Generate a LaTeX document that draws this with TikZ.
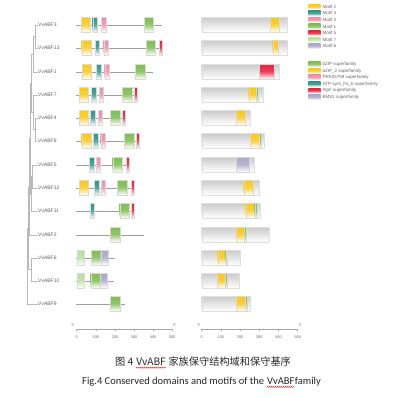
\documentclass[tikz,border=0pt]{standalone}
\usepackage{fontspec}
\setmainfont{Liberation Sans}
\newfontfamily\cjkfont{Noto Sans CJK SC}
\newfontfamily\calfont{Carlito}
\usetikzlibrary{decorations.pathmorphing}
\definecolor{cY}{HTML}{FCC814}
\definecolor{cT}{HTML}{2A978C}
\definecolor{cP}{HTML}{F08CA6}
\definecolor{cG}{HTML}{7DBE4E}
\definecolor{cR}{HTML}{E8203A}
\definecolor{cLG}{HTML}{B9E09A}
\definecolor{cL}{HTML}{ABA8C8}
\newcommand\mot[4]{\shade[top color=#4,bottom color=white,middle color=#4!85,draw=gray!30,line width=0.3pt] (#1,#3-8) rectangle (#2,#3+7);}
\newcommand\gbox[2]{\shade[top color=gray!42,bottom color=white,draw=gray!25,line width=0.3pt] (201.7,#2-8) rectangle (#1,#2+7);}
\newcommand\swatch[2]{\shade[top color=#2,bottom color=white,middle color=#2!85] (308.3,#1-2.6) rectangle (320.5,#1+2.4);}
\begin{document}
\begin{tikzpicture}[x=1pt,y=-1pt,
  lbl/.style={font=\fontsize{5}{5}\selectfont,text=gray!75!black,inner sep=0.5pt,anchor=west},
  leg/.style={font=\fontsize{4.5}{4.5}\selectfont,text=gray!80!black,inner sep=0.5pt,anchor=west},
  tk/.style={font=\fontsize{3.8}{3.8}\selectfont,text=gray!80!black,inner sep=0.5pt},
  tree/.style={draw=gray!55,line width=0.5pt},
  mline/.style={draw=gray!75,line width=0.6pt},
  axis/.style={draw=gray!70,line width=0.5pt},
  cn/.style={font=\cjkfont\fontsize{10.2}{10.2}\selectfont,text=black!85,inner sep=0pt,anchor=base west},
  en/.style={font=\calfont\fontsize{10.5}{10.5}\selectfont,text=black!85,inner sep=0pt,anchor=base west},
  squig/.style={red,line width=0.3pt,decorate,decoration={snake,amplitude=0.6pt,segment length=2pt}}]
\useasboundingbox[fill=white] (0,0) rectangle (394,397);

% ---- labels ----
\node[lbl] (t3) at (37.5,25) {VvABF3};
\node[lbl] (t13) at (37.5,48) {VvABF13};
\node[lbl] (t1) at (37.5,72) {VvABF1};
\node[lbl] (t7) at (37.5,95) {VvABF7};
\node[lbl] (t4) at (37.5,118) {VvABF4};
\node[lbl] (t8) at (37.5,141) {VvABF8};
\node[lbl] (t5) at (37.5,165) {VvABF5};
\node[lbl] (t12) at (37.5,188) {VvABF12};
\node[lbl] (t11) at (37.5,211) {VvABF11};
\node[lbl] (t2) at (37.5,235) {VvABF2};
\node[lbl] (t6) at (37.5,258) {VvABF6};
\node[lbl] (t10) at (37.5,281) {VvABF10};
\node[lbl] (t9) at (37.5,304) {VvABF9};

% ---- tree ----
\coordinate (na) at (35,36.5);
\coordinate (nb) at (33,54.25);
\coordinate (nc) at (35,129.5);
\coordinate (nd) at (33.5,112);
\coordinate (ne) at (31.5,83);
\coordinate (nf) at (32.5,176.5);
\coordinate (ng) at (31,194);
\coordinate (nh) at (30,138.5);
\coordinate (ni) at (29,187);
\coordinate (nj) at (31,269.5);
\coordinate (nk) at (28,228);
\coordinate (nr) at (27,266);
\draw[tree] (na) |- (t3.west) (na) |- (t13.west);
\draw[tree] (nb) |- (na) (nb) |- (t1.west);
\draw[tree] (nc) |- (t4.west) (nc) |- (t8.west);
\draw[tree] (nd) |- (t7.west) (nd) |- (nc);
\draw[tree] (ne) |- (nb) (ne) |- (nd);
\draw[tree] (nf) |- (t5.west) (nf) |- (t12.west);
\draw[tree] (ng) |- (nf) (ng) |- (t11.west);
\draw[tree] (nh) |- (ne) (nh) |- (ng);
\draw[tree] (ni) |- (nh) (ni) |- (t2.west);
\draw[tree] (nj) |- (t6.west) (nj) |- (t10.west);
\draw[tree] (nk) |- (ni) (nk) |- (nj);
\draw[tree] (nr) |- (nk) (nr) |- (t9.west);

% ---- motif lines ----
\draw[mline] (76,25) -- (162,25);
\draw[mline] (76,48) -- (162,48);
\draw[mline] (76,72) -- (153,72);
\draw[mline] (76,95) -- (137,95);
\draw[mline] (76,118) -- (125,118);
\draw[mline] (76,141) -- (138.7,141);
\draw[mline] (76,165) -- (129.3,165);
\draw[mline] (76,188) -- (133.7,188);
\draw[mline] (76,211) -- (134.3,211);
\draw[mline] (76,235) -- (144,235);
\draw[mline] (76,258) -- (114.7,258);
\draw[mline] (76,281) -- (113.7,281);
\draw[mline] (76,304) -- (125,304);

% ---- motifs ----
\mot{81}{90}{25}{cY}\mot{92.7}{97.3}{25}{cT}\mot{101}{105.7}{25}{cP}\mot{144}{153}{25}{cG}
\mot{81.7}{90.7}{48}{cY}\mot{95}{99.3}{48}{cT}\mot{103.7}{107.7}{48}{cP}\mot{146}{155.3}{48}{cG}\mot{159.3}{162}{48}{cR}
\mot{82.3}{91.3}{72}{cY}\mot{96.3}{101}{72}{cT}\mot{104.7}{109}{72}{cP}\mot{135.3}{145}{72}{cG}
\mot{79}{88.3}{95}{cY}\mot{91.3}{96}{95}{cT}\mot{99}{103.3}{95}{cP}\mot{122.3}{132}{95}{cG}\mot{134.3}{136.7}{95}{cR}
\mot{79}{88}{118}{cY}\mot{90}{94.7}{118}{cT}\mot{98}{102.3}{118}{cP}\mot{110.3}{120}{118}{cG}\mot{122.3}{125}{118}{cR}
\mot{81.7}{90.7}{141}{cY}\mot{93.3}{98}{141}{cT}\mot{100.7}{105.3}{141}{cP}\mot{124}{133.7}{141}{cG}\mot{136}{138.7}{141}{cR}
\mot{89.3}{94}{165}{cT}\mot{96}{100.3}{165}{cP}\mot{112.7}{122.3}{165}{cG}\mot{126.3}{129.3}{165}{cR}
\mot{79}{88}{188}{cY}\mot{94.3}{99}{188}{cT}\mot{101}{105.3}{188}{cP}\mot{117}{126.7}{188}{cG}\mot{131}{133.7}{188}{cR}
\mot{90}{94.3}{211}{cT}\mot{119.7}{129.3}{211}{cG}\mot{131.3}{134}{211}{cR}
\mot{110}{119.7}{235}{cG}
\mot{77}{83.7}{258}{cLG}\mot{91.3}{100.7}{258}{cG}\mot{100.7}{107.7}{258}{cL}
\mot{77}{83.7}{281}{cLG}\mot{90.7}{100.3}{281}{cG}\mot{100.3}{107.3}{281}{cL}
\mot{110.3}{119.7}{304}{cG}

% ---- domains ----
\gbox{287.3}{25}\mot{270.3}{279.3}{25}{cY}
\gbox{287.3}{48}\mot{272.7}{278}{48}{cY}
\gbox{278.7}{72}\mot{259.3}{273.7}{72}{cR}
\gbox{262.7}{95}\mot{248.7}{256}{95}{cY}\mot{256}{258.3}{95}{cG}
\gbox{250.3}{118}\mot{236.3}{244.7}{118}{cY}
\gbox{263.7}{141}\mot{250.3}{259.3}{141}{cY}\mot{259.3}{261}{141}{cG}
\gbox{254.3}{165}\mot{236.3}{249.3}{165}{cL}
\gbox{259}{188}\mot{243.7}{253.3}{188}{cY}
\gbox{259.7}{211}\mot{245.7}{254.7}{211}{cY}\mot{254.7}{256.7}{211}{cG}
\gbox{268.7}{235}\mot{236.3}{244.3}{235}{cY}\mot{244.3}{245.7}{235}{cG}
\gbox{239.7}{258}\mot{217.7}{225.7}{258}{cY}\mot{225.7}{227.3}{258}{cG}
\gbox{239.3}{281}\mot{217.3}{225.3}{281}{cY}\mot{225.3}{226.7}{281}{cG}
\gbox{249.7}{304}\mot{236.3}{245.3}{304}{cY}\mot{245.3}{247.3}{304}{cG}

% ---- legends ----
\swatch{6.7}{cY}\node[leg] (m2) at (322,6.7) {Motif 2};
\swatch{13.3}{cT}\node[leg] (m4) at (322,13.3) {Motif 4};
\swatch{19.9}{cP}\node[leg] (m3) at (322,19.9) {Motif 3};
\swatch{26.5}{cG}\node[leg] (m1) at (322,26.5) {Motif 1};
\swatch{33.1}{cR}\node[leg] (m5) at (322,33.1) {Motif 5};
\swatch{39.7}{cLG}\node[leg] (m7) at (322,39.7) {Motif 7};
\swatch{46.3}{cL}\node[leg] (m6) at (322,46.3) {Motif 6};
\swatch{64.3}{cG}\node[leg] (s1) at (322,64.3) {bZIP superfamily};
\swatch{70.9}{cY}\node[leg] (s2) at (322,70.9) {bZIP\_2 superfamily};
\swatch{77.5}{cP}\node[leg] (s3) at (322,77.5) {PRK05759 superfamily};
\swatch{84.1}{cT}\node[leg] (s4) at (322,84.1) {ATP-synt\_Fo\_b superfamily};
\swatch{90.7}{cR}\node[leg] (s5) at (322,90.7) {AlpF superfamily};
\swatch{97.3}{cL}\node[leg] (s6) at (322,97.3) {BMS1 superfamily};

% ---- axes ----
\draw[axis] (76.7,329) -- (172.3,329);
\foreach \i [count=\k from 0] in {0,100,200,300,400,500}{
  \draw[axis] (76.7+\k*19.12,329) -- (76.7+\k*19.12,331);
  \node[tk] (la\k) at (76.7+\k*19.12,337) {\i};
}
\node[tk] (l5) at (73,325.5) {5'};
\node[tk] (l3) at (174.5,325.5) {3'};
\draw[axis] (201.7,329) -- (297.7,329);
\foreach \i [count=\k from 0] in {0,100,200,300,400,500}{
  \draw[axis] (201.7+\k*19.2,329) -- (201.7+\k*19.2,331);
  \node[tk] (ra\k) at (201.7+\k*19.2,337) {\i};
}
\node[tk] (r5) at (199,325.5) {5'};
\node[tk] (r3) at (300,325.5) {3'};

% ---- captions ----
\node[cn] (c1) at (115,365.5) {图 4};
\node[cn] (c2) at ([xshift=2.6pt]c1.base east) {VvABF};
\node[cn] (c3) at (c2.base east) {\ 家族保守结构域和保守基序};
\draw[squig] ([yshift=-2.2pt]c2.base west) -- ([yshift=-2.2pt]c2.base east);
\node[en] (e1) at (82,384.5) {Fig.4 Conserved domains and motifs of the};
\node[en] (e2) at ([xshift=2.5pt]e1.base east) {VvABF};
\node[en] (e3) at (e2.base east) {family};
\draw[squig] ([yshift=-2.4pt]e2.base west) -- ([yshift=-2.4pt]e2.base east);
\end{tikzpicture}
\end{document}
